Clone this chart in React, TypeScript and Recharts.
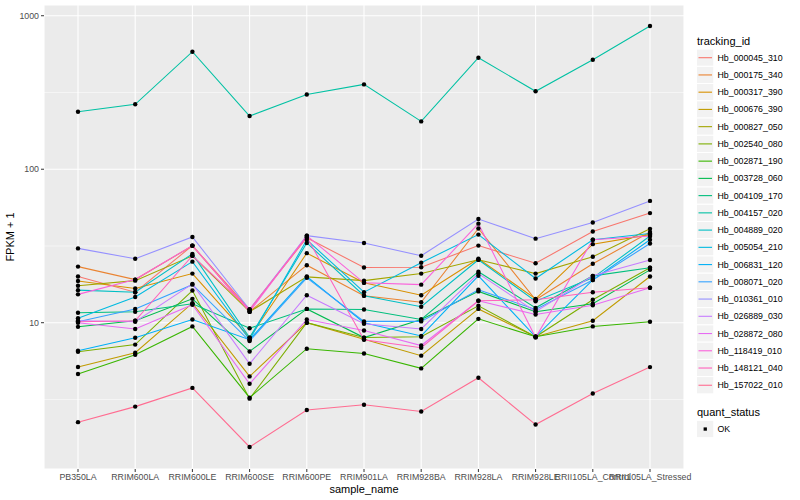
import React from "react";
import { LineChart, Line, XAxis, YAxis, CartesianGrid, ReferenceLine } from "recharts";

const samples = ["PB350LA", "RRIM600LA", "RRIM600LE", "RRIM600SE", "RRIM600PE", "RRIM901LA", "RRIM928BA", "RRIM928LA", "RRIM928LE", "RRII105LA_Control", "RRII105LA_Stressed"];

const trackingIds = ["Hb_000045_310", "Hb_000175_340", "Hb_000317_390", "Hb_000676_390", "Hb_000827_050", "Hb_002540_080", "Hb_002871_190", "Hb_003728_060", "Hb_004109_170", "Hb_004157_020", "Hb_004889_020", "Hb_005054_210", "Hb_006831_120", "Hb_008071_020", "Hb_010361_010", "Hb_026889_030", "Hb_028872_080", "Hb_118419_010", "Hb_148121_040", "Hb_157022_010"];

const colors = ["#F8766D", "#EA8331", "#D89000", "#C09B00", "#A3A500", "#7CAE00", "#39B600", "#00BB4E", "#00BF7D", "#00C1A3", "#00BFC4", "#00BAE0", "#00B0F6", "#35A2FF", "#9590FF", "#C77CFF", "#E76BF3", "#FA62DB", "#FF62BC", "#FF6C91"];

const hb000045_310 = [20.0, 15.8, 31.8, 12.2, 35.8, 22.9, 23.0, 31.8, 24.4, 39.3, 51.8];
const hb000175_340 = [23.2, 19.1, 31.7, 11.8, 23.7, 15.0, 13.6, 41.1, 14.1, 24.2, 39.0];
const hb000317_390 = [18.7, 16.7, 20.9, 8.0, 28.4, 18.2, 15.1, 26.1, 14.3, 32.5, 37.5];
const hb000676_390 = [5.15, 6.38, 13.4, 4.47, 10.0, 7.8, 6.1, 12.3, 8.1, 10.3, 20.0];
const hb000827_050 = [17.4, 18.8, 27.3, 11.8, 19.9, 18.8, 20.9, 25.7, 20.9, 26.9, 40.9];
const hb002540_080 = [6.47, 7.2, 16.2, 3.2, 10.0, 8.0, 8.1, 12.9, 8.1, 14.1, 22.8];
const hb002871_190 = [4.63, 6.19, 9.46, 3.25, 6.77, 6.3, 5.04, 10.6, 8.1, 9.46, 10.15];
const hb003728_060 = [9.4, 10.3, 14.3, 6.5, 12.3, 8.0, 10.5, 16.0, 11.8, 13.3, 22.1];
const hb004109_170 = [11.6, 11.8, 13.3, 9.2, 12.3, 12.2, 10.5, 21.5, 12.5, 20.2, 22.8];
const hb004157_020 = [237, 265, 583, 222, 307, 357, 205, 533, 322, 517, 858];
const hb004889_020 = [16.3, 15.8, 28.1, 8.0, 33.1, 15.0, 12.7, 25.7, 13.8, 19.6, 36.7];
const hb005054_210 = [10.7, 14.7, 25.0, 7.75, 34.7, 15.8, 24.6, 37.5, 19.4, 34.7, 38.1];
const hb006831_120 = [6.57, 7.98, 10.5, 7.75, 20.0, 10.0, 8.2, 20.2, 8.1, 19.0, 34.7];
const hb008071_020 = [10.15, 12.3, 17.7, 7.6, 19.6, 10.2, 10.2, 16.4, 12.2, 19.0, 32.8];
const hb010361_010 = [30.5, 26.1, 36.2, 12.2, 36.9, 33.1, 27.3, 47.4, 35.3, 45.0, 62.2];
const hb026889_030 = [10.3, 10.15, 17.9, 5.4, 15.1, 9.85, 9.1, 20.9, 11.8, 20.2, 25.6];
const hb028872_080 = [10.0, 9.1, 13.1, 4.0, 10.5, 8.9, 7.1, 13.9, 11.3, 13.0, 16.9];
const hb118419_010 = [15.3, 19.1, 31.8, 11.8, 36.9, 18.2, 17.7, 44.2, 8.0, 34.7, 36.7];
const hb148121_040 = [10.15, 10.3, 27.3, 12.2, 36.2, 7.75, 6.87, 13.9, 14.1, 15.8, 16.9];
const hb157022_010 = [2.25, 2.84, 3.76, 1.55, 2.70, 2.92, 2.64, 4.38, 2.17, 3.46, 5.14];

const seriesValues = [hb000045_310, hb000175_340, hb000317_390, hb000676_390, hb000827_050, hb002540_080, hb002871_190, hb003728_060, hb004109_170, hb004157_020, hb004889_020, hb005054_210, hb006831_120, hb008071_020, hb010361_010, hb026889_030, hb028872_080, hb118419_010, hb148121_040, hb157022_010];

const yTicks = [10, 100, 1000];
const yMinorTicks = [3.1623, 31.623, 316.23];
const yDomain = [1.114, 1175];

const data = samples.map((s, i) => {
  const row: any = { sample: s };
  trackingIds.forEach((id, k) => {
    row[id] = seriesValues[k][i];
  });
  return row;
});

const FONT = "'Liberation Sans', Arial, Helvetica, sans-serif";

function LegendOverlay() {
  const step = 17.24;
  const first = 57.7;
  return (
    <svg width={800} height={500} style={{ position: "absolute", left: 0, top: 0, pointerEvents: "none" }} fontFamily={FONT}>
      <text x={697} y={44.5} fontSize={11} fill="#000">tracking_id</text>
      {trackingIds.map((id, i) => {
        const cy = first + step * i;
        return (
          <g key={id}>
            <rect x={696.5} y={cy - step / 2} width={17.3} height={step} fill="#F2F2F2" stroke="#FFFFFF" strokeWidth={1} />
            <line x1={698.5} x2={712} y1={cy} y2={cy} stroke={colors[i]} strokeWidth={1.1} />
            <text x={717.5} y={cy} fontSize={8.8} fill="#000" dominantBaseline="central">{id}</text>
          </g>
        );
      })}
      <text x={697} y={416} fontSize={11} fill="#000">quant_status</text>
      <rect x={696.5} y={429 - step / 2} width={17.3} height={step} fill="#F2F2F2" stroke="#FFFFFF" strokeWidth={1} />
      <rect x={703.6} y={427.4} width={3.3} height={3.3} fill="#000" />
      <text x={717.5} y={429} fontSize={8.8} fill="#000" dominantBaseline="central">OK</text>
    </svg>
  );
}

export default function App() {
  return (
    <div style={{ position: "absolute", left: 0, top: 0, width: 800, height: 500, background: "#FFFFFF", fontFamily: FONT }}>
      <LineChart width={800} height={500} data={data} margin={{ top: 5, right: 116, bottom: 0, left: 0 }}>
        <CartesianGrid fill="#EBEBEB" stroke="#FFFFFF" strokeWidth={1.07} />
        {yMinorTicks.map((v) => (
          <ReferenceLine key={v} y={v} stroke="#FFFFFF" strokeWidth={0.53} />
        ))}
        <XAxis
          dataKey="sample"
          type="category"
          scale="point"
          padding={{ left: 34, right: 34 }}
          height={31}
          axisLine={false}
          tickSize={3}
          tickMargin={1.5}
          tickLine={{ stroke: "#333333", strokeWidth: 1 }}
          tick={{ fontSize: 8.8, fill: "#4D4D4D", fontFamily: FONT }}
          interval={0}
          label={{ value: "sample_name", position: "insideBottom", offset: 7, fontSize: 11, fill: "#000", fontFamily: FONT }}
        />
        <YAxis
          scale="log"
          domain={yDomain}
          ticks={yTicks}
          allowDataOverflow
          width={44}
          axisLine={false}
          tickSize={3}
          tickMargin={2}
          tickLine={{ stroke: "#333333", strokeWidth: 1 }}
          tick={{ fontSize: 8.8, fill: "#4D4D4D", fontFamily: FONT }}
          label={{
            content: () => (
              <text transform="translate(14,237) rotate(-90)" textAnchor="middle" fontSize={11} fill="#000" fontFamily={FONT}>
                FPKM + 1
              </text>
            ),
          }}
        />
        {trackingIds.map((id, i) => (
          <Line key={id} dataKey={id} type="linear" stroke={colors[i]} strokeWidth={1.07} dot={false} activeDot={false} isAnimationActive={false} />
        ))}
        {trackingIds.map((id) => (
          <Line key={id + "_pts"} dataKey={id} type="linear" stroke="none" strokeWidth={0} legendType="none" dot={{ r: 2.2, fill: "#000", stroke: "none" }} activeDot={false} isAnimationActive={false} />
        ))}
      </LineChart>
      <LegendOverlay />
    </div>
  );
}
